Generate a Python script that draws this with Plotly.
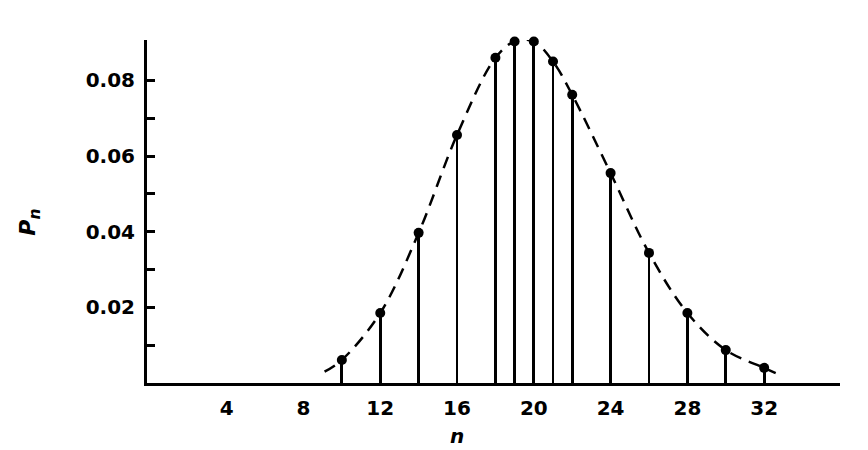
import plotly.graph_objects as go

# Stem positions and heights
n_vals = [10, 12, 14, 16, 18, 19, 20, 21, 22, 24, 26, 28, 30, 32]
p_vals = [0.0061, 0.0185, 0.0397, 0.0656, 0.0860, 0.0903, 0.0903, 0.0850,
          0.0762, 0.0555, 0.0344, 0.0185, 0.0087, 0.0040]

# Ends of the dashed envelope curve (beyond the first/last stems)
curve_start = (9.1, 0.0030)
curve_end = (32.6, 0.0026)

x_ticks = [4, 8, 12, 16, 20, 24, 28, 32]
y_ticks = [0.02, 0.04, 0.06, 0.08]
y_labels = ["0.02", "0.04", "0.06", "0.08"]
y_minor_ticks = [0.01, 0.03, 0.05, 0.07]

curve_n = [curve_start[0]] + n_vals + [curve_end[0]]
curve_p = [curve_start[1]] + p_vals + [curve_end[1]]

FONT = "DejaVu Sans"
TICKFONT = dict(family=FONT, size=20, color="black", weight="bold")

fig = go.Figure()

# dashed envelope
fig.add_trace(go.Scatter(
    x=curve_n, y=curve_p, mode="lines", cliponaxis=False,
    line=dict(color="black", width=2.5, dash="12px,8px", shape="spline", smoothing=1.0),
    hoverinfo="skip", showlegend=False))

# stems
fig.add_trace(go.Bar(
    x=n_vals, y=p_vals, width=0.15, cliponaxis=False,
    marker=dict(color="black", line=dict(width=0)),
    showlegend=False))

# dots at stem tops
fig.add_trace(go.Scatter(
    x=n_vals, y=p_vals, mode="markers", cliponaxis=False,
    marker=dict(color="black", size=10, symbol="circle"),
    showlegend=False))

fig.update_layout(
    width=860, height=442,
    margin=dict(l=139, r=28, t=32, b=67),
    plot_bgcolor="white", paper_bgcolor="white",
    font=dict(family=FONT, size=20, color="black"),
    bargap=0,
    xaxis=dict(
        range=[-0.15, 35.95], showgrid=False, zeroline=False,
        showline=True, linecolor="black", linewidth=3,
        tickmode="array", tickvals=x_ticks, ticktext=[str(v) for v in x_ticks],
        ticks="", ticklabelstandoff=5, tickfont=TICKFONT,
    ),
    yaxis=dict(
        range=[0, 0.0907], showgrid=False, zeroline=False,
        showline=True, linecolor="black", linewidth=3,
        tickmode="array", tickvals=y_ticks, ticktext=y_labels,
        ticks="inside", ticklen=8, tickwidth=2.5, tickcolor="black",
        ticklabelstandoff=5, tickfont=TICKFONT,
        minor=dict(tickmode="array", tickvals=y_minor_ticks, ticks="inside",
                   ticklen=8, tickwidth=2.5, tickcolor="black", showgrid=False),
    ),
    annotations=[
        dict(text="<i>n</i>", x=16, xref="x", y=-0.155, yref="paper",
             showarrow=False, font=dict(family=FONT, size=20, color="black", weight="bold"),
             xanchor="center", yanchor="middle"),
        dict(text="<i>P<sub>n</sub></i>", x=-0.169, xref="paper", y=0.47, yref="paper",
             showarrow=False, textangle=-90,
             font=dict(family=FONT, size=22, color="black", weight="bold"),
             xanchor="center", yanchor="middle"),
    ],
)

fig.write_html("out.html")
